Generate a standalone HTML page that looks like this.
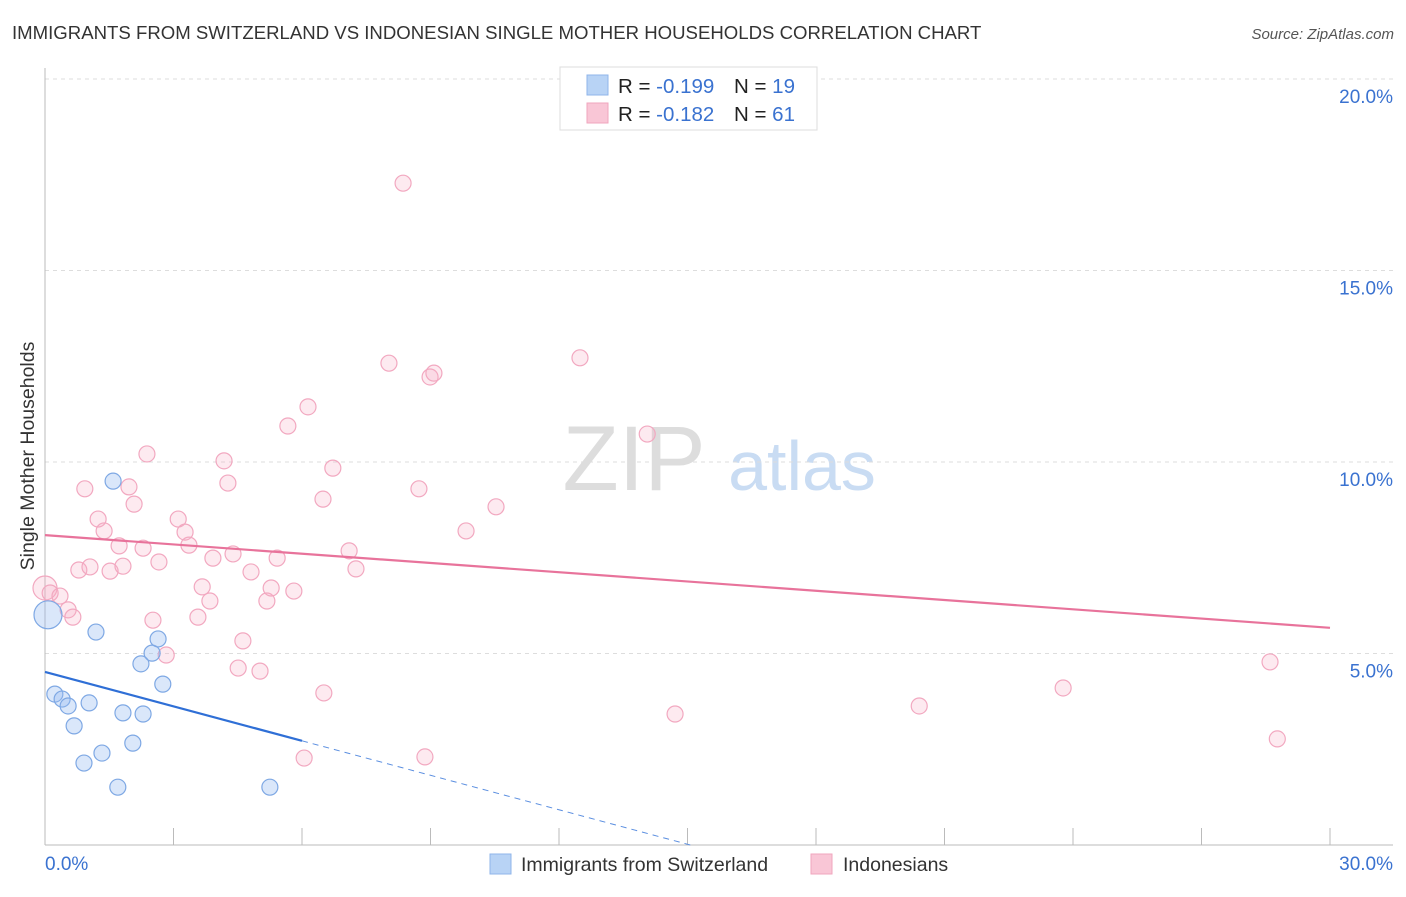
<!DOCTYPE html>
<html><head><meta charset="utf-8"><style>
body{margin:0;background:#fff;font-family:"Liberation Sans",sans-serif}
svg text{font-family:"Liberation Sans",sans-serif}
</style></head><body>
<svg id="chart" width="1406" height="892" viewBox="0 0 1406 892">
<text x="12" y="39" font-size="18.6" fill="#333">IMMIGRANTS FROM SWITZERLAND VS INDONESIAN SINGLE MOTHER HOUSEHOLDS CORRELATION CHART</text>
<text x="1394" y="39" font-size="15" fill="#555" font-style="italic" text-anchor="end">Source: ZipAtlas.com</text>
<text x="634" y="490" font-size="92" fill="#ddd" font-family="Liberation Serif" text-anchor="middle">ZIP</text>
<text x="802" y="490" font-size="70" fill="#c9dcf3" text-anchor="middle">atlas</text>
<text x="34" y="456" font-size="19.5" fill="#333" text-anchor="middle" transform="rotate(-90 34 456)">Single Mother Households</text>
<g id="grid"></g><g id="axes"></g><g id="pts"></g><g id="trend"></g>
<g>
<rect x="560" y="67" width="257" height="63" fill="#fff" stroke="#ddd"/>
<rect x="587" y="75" width="21" height="20" fill="#b8d3f5" stroke="#8fb5ea"/>
<rect x="587" y="103" width="21" height="20" fill="#f9c6d6" stroke="#f0a6be"/>
<text x="618" y="93" font-size="20.5" fill="#222">R = <tspan fill="#3a72d0">-0.199</tspan></text>
<text x="734" y="93" font-size="20.5" fill="#222">N = <tspan fill="#3a72d0">19</tspan></text>
<text x="618" y="121" font-size="20.5" fill="#222">R = <tspan fill="#3a72d0">-0.182</tspan></text>
<text x="734" y="121" font-size="20.5" fill="#222">N = <tspan fill="#3a72d0">61</tspan></text>
</g>
<g>
<rect x="490" y="854" width="21" height="20" fill="#b8d3f5" stroke="#8fb5ea"/>
<text x="521" y="871" font-size="19.5" fill="#333">Immigrants from Switzerland</text>
<rect x="811" y="854" width="21" height="20" fill="#f9c6d6" stroke="#f0a6be"/>
<text x="843" y="871" font-size="19.5" fill="#333">Indonesians</text>
</g>
</svg>
<script>
const xTicks=[0,3,6,9,12,15,18,21,24,27,30];
const yTicks=[5,10,15,20];
const yTickLabels=["5.0%","10.0%","15.0%","20.0%"];
const blueX=[0.07,0.23,0.40,0.54,0.68,0.91,1.03,1.19,1.33,1.59,1.70,1.82,2.05,2.24,2.29,2.50,2.64,2.75,5.25];
const blueY=[6.01,3.94,3.81,3.63,3.11,2.14,3.71,5.56,2.40,9.50,1.51,3.45,2.66,4.73,3.42,5.01,5.38,4.20,1.51];
const pinkX=[0,.12,.35,.54,.65,.79,.93,1.05,1.24,1.38,1.52,1.73,1.82,1.96,2.08,2.29,2.38,2.52,2.66,2.83,3.11,3.27,3.36,3.57,3.67,3.85,3.92,4.18,4.27,4.39,4.51,4.62,4.81,5.02,5.18,5.28,5.42,5.67,5.81,6.05,6.14,6.49,6.51,6.72,7.10,7.26,8.03,8.36,8.73,8.87,8.99,9.08,9.83,10.53,12.49,14.06,14.71,20.41,23.77,28.60,28.77];
const pinkY=[6.71,6.58,6.50,6.14,5.95,7.18,9.30,7.26,8.51,8.20,7.15,7.81,7.28,9.35,8.90,7.75,10.21,5.87,7.39,4.96,8.51,8.17,7.83,5.95,6.74,6.37,7.49,10.03,9.45,7.60,4.62,5.33,7.13,4.54,6.37,6.71,7.49,10.94,6.63,2.27,11.44,9.03,3.97,9.84,7.68,7.21,12.58,17.28,9.30,2.30,12.22,12.32,8.20,8.83,12.72,10.73,3.42,3.63,4.10,4.78,2.77];
const pinkTrend=[8.09,5.67];
const blueTrend=[4.52,-0.30];
const NS="http://www.w3.org/2000/svg";
const X=v=>45+v*1285/30, Y=v=>845-v*38.3;
function mk(p,t,a){const e=document.createElementNS(NS,t);for(const k in a)e.setAttribute(k,a[k]);p.appendChild(e);return e;}
const grid=document.getElementById('grid'),axes=document.getElementById('axes'),pts=document.getElementById('pts'),tr=document.getElementById('trend');
yTicks.forEach((t,i)=>{
 const l=mk(grid,'line',{x1:45,x2:1393,y1:Y(t),y2:Y(t),stroke:'#ddd','stroke-dasharray':'4,4'});
 
 
 const tx=mk(axes,'text',{x:1393,y:Y(t)+24,'font-size':19,fill:'#3a72d0','text-anchor':'end'});
 tx.textContent=yTickLabels[i];
 
 
});
const ya=mk(axes,'line',{x1:45,x2:45,y1:68,y2:845,stroke:'#bbb'});


const xa=mk(axes,'line',{x1:45,x2:1393,y1:845,y2:845,stroke:'#bbb'});


xTicks.forEach(t=>{
 const l=mk(axes,'line',{x1:X(t),x2:X(t),y1:828,y2:845,stroke:'#bbb'});
 
 
});
[[0,"0.0%","start",45],[30,"30.0%","end",1393]].forEach(d=>{
 const tx=mk(axes,'text',{x:d[3],y:870,'font-size':19,fill:'#3a72d0','text-anchor':d[2]});
 tx.textContent=d[1];
 
 
});
pinkX.forEach((x,i)=>{
 const c=mk(pts,'circle',{cx:X(x),cy:Y(pinkY[i]),r:i==0?12:8,fill:'rgba(246,170,196,0.25)',stroke:'#f2a8c0','stroke-width':1.2});
 
 
});
blueX.forEach((x,i)=>{
 const c=mk(pts,'circle',{cx:X(x),cy:Y(blueY[i]),r:i==0?14:8,fill:'rgba(150,185,240,0.35)',stroke:'#7ea8e4','stroke-width':1.2});
 
 
});
const pl=mk(tr,'line',{x1:X(0),y1:Y(pinkTrend[0]),x2:X(30),y2:Y(pinkTrend[1]),stroke:'#e8739b','stroke-width':2.2});


const bx=6, bz=-blueTrend[0]/blueTrend[1];
const bl=mk(tr,'line',{x1:X(0),y1:Y(blueTrend[0]),x2:X(bx),y2:Y(blueTrend[0]+blueTrend[1]*bx),stroke:'#2f6fd6','stroke-width':2.2});


const bd=mk(tr,'line',{x1:X(bx),y1:Y(blueTrend[0]+blueTrend[1]*bx),x2:X(bz),y2:Y(0),stroke:'#5a8ee0','stroke-width':1,'stroke-dasharray':'6,5'});


</script>
</body></html>
